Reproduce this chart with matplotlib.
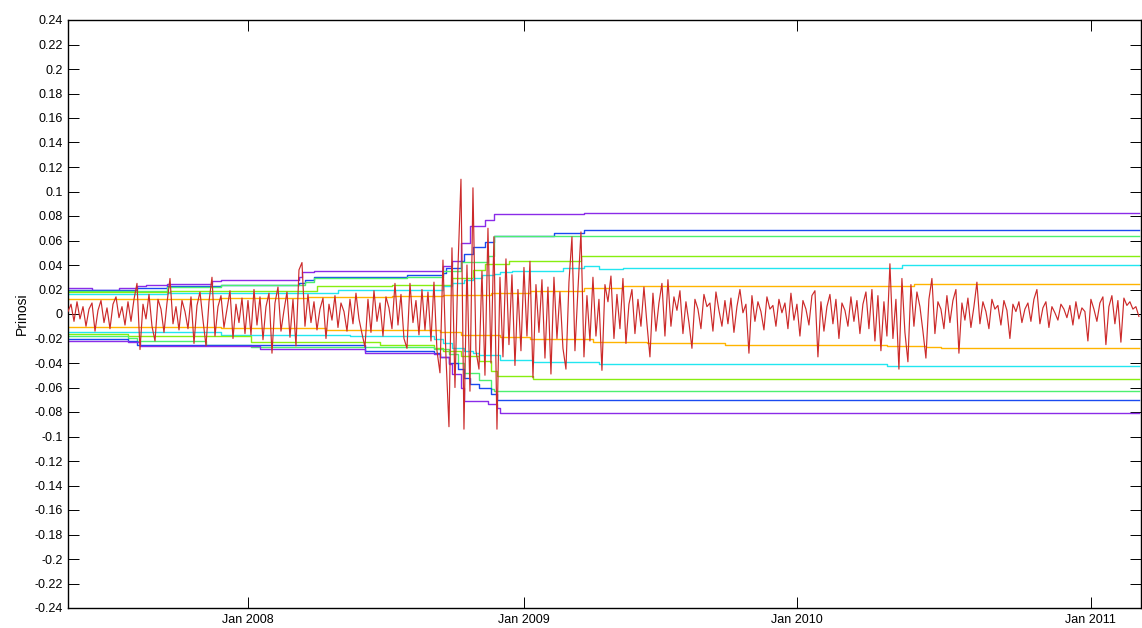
import numpy as np
import matplotlib
matplotlib.use("Agg")
import matplotlib.pyplot as plt

plt.rcParams["font.family"] = ["Liberation Sans", "DejaVu Sans"]
plt.rcParams["axes.unicode_minus"] = False

# daily returns, one value per observation
returns = [
    0.002, 0.008, -0.006, 0.010, -0.004, 0.006, -0.010, 0.004, 0.009, -0.014, 0.003, 0.011, -0.007, 0.005, -0.012, 0.008, 0.014, -0.003, 0.006, -0.009,
    0.010, -0.006, 0.012, 0.025, -0.029, 0.008, -0.004, 0.016, -0.010, -0.022, 0.012, 0.004, -0.015, 0.009, 0.029, -0.008, 0.006, -0.013, 0.011, 0.002,
    -0.012, 0.014, -0.024, 0.007, 0.018, -0.005, -0.026, 0.010, 0.030, -0.018, 0.006, 0.015, -0.011, 0.004, 0.019, -0.020, 0.008, -0.007, 0.013, -0.016,
    0.011, -0.017, 0.020, -0.009, 0.014, -0.021, 0.006, 0.017, -0.032, 0.009, 0.022, -0.014, 0.003, 0.018, -0.019, 0.012, -0.026, 0.036, 0.042, -0.010,
    0.016, -0.007, 0.010, -0.013, 0.004, 0.013, -0.020, 0.008, -0.005, 0.015, -0.011, 0.009, 0.002, -0.014, 0.012, -0.008, 0.017, -0.004, -0.016, -0.027,
    0.012, -0.015, 0.019, -0.006, 0.009, -0.018, 0.014, 0.005, -0.012, 0.025, -0.009, 0.016, -0.020, -0.028, 0.025, -0.007, 0.011, -0.017, 0.020, -0.013,
    0.018, -0.022, 0.026, -0.030, -0.048, 0.044, -0.035, -0.092, 0.054, -0.060, 0.038, 0.110, -0.094, 0.040, -0.063, 0.103, -0.030, -0.045, 0.035, -0.050,
    0.070, -0.040, 0.063, -0.094, 0.030, -0.035, 0.045, -0.025, 0.032, -0.042, 0.020, -0.030, 0.038, -0.018, 0.043, -0.052, 0.024, -0.015, 0.028, -0.036,
    0.022, -0.049, 0.030, -0.020, 0.018, -0.028, -0.045, 0.026, 0.063, -0.030, 0.020, 0.067, -0.035, 0.015, -0.022, 0.030, -0.018, 0.012, -0.046, 0.024,
    0.010, 0.031, -0.020, 0.016, -0.012, 0.029, -0.024, 0.008, 0.020, -0.016, 0.012, -0.010, 0.022, -0.008, -0.035, 0.017, -0.014, 0.009, 0.025, -0.018,
    0.028, -0.010, 0.014, 0.003, 0.019, -0.016, 0.010, -0.007, -0.028, 0.012, 0.004, -0.012, 0.016, 0.006, 0.009, -0.014, 0.018, 0.003, -0.010, 0.011,
    -0.008, 0.013, -0.015, 0.006, 0.020, 0.001, 0.008, -0.032, 0.015, -0.006, 0.010, 0.002, -0.013, 0.014, 0.004, 0.007, -0.010, 0.012, 0.001, 0.009,
    -0.012, 0.017, -0.005, 0.008, -0.018, 0.011, 0.004, -0.009, 0.015, 0.019, -0.035, 0.010, -0.014, 0.006, 0.016, -0.008, 0.012, -0.020, 0.009, 0.003,
    -0.010, 0.014, -0.006, 0.011, -0.016, 0.008, 0.018, -0.012, 0.020, -0.022, 0.015, -0.030, 0.010, -0.018, 0.041, -0.020, 0.012, -0.045, 0.029, -0.015,
    -0.039, 0.024, -0.010, 0.018, 0.006, -0.014, -0.036, 0.012, 0.029, -0.016, 0.010, 0.004, -0.012, 0.015, -0.007, 0.011, 0.020, -0.032, 0.009, -0.005,
    0.013, -0.011, 0.006, 0.026, -0.008, 0.010, 0.002, -0.012, 0.012, 0.004, 0.007, -0.009, 0.011, 0.003, -0.020, 0.008, 0.002, 0.010, -0.007, 0.004,
    0.009, -0.006, 0.012, 0.020, -0.008, 0.005, 0.010, -0.011, 0.006, 0.001, -0.005, 0.008, 0.004, -0.003, 0.007, -0.009, 0.010, -0.004, 0.005, 0.002,
    -0.022, 0.012, 0.004, -0.006, 0.009, 0.014, -0.025, 0.006, 0.015, -0.008, 0.011, -0.023, 0.013, 0.007, 0.010, 0.004, 0.006, -0.002,
]

# VaR bounds as (observation where the level changes, level)
purple_up = [(0, 0.0214), (8, 0.020), (17, 0.021), (23, 0.0225), (26, 0.0236), (33, 0.0247), (48, 0.0268),
             (51, 0.028), (77, 0.030), (78, 0.0344), (82, 0.035), (125, 0.039), (128, 0.043), (131, 0.058),
             (134, 0.0716), (139, 0.0764), (142, 0.0816), (172, 0.0824)]
blue_up = [(0, 0.020), (23, 0.0215), (33, 0.0225), (51, 0.024), (77, 0.0256), (79, 0.028), (82, 0.030),
           (113, 0.0315), (125, 0.0336), (126, 0.0374), (131, 0.043), (132, 0.049), (135, 0.0545),
           (139, 0.059), (142, 0.0635), (162, 0.066), (172, 0.0689)]
green_up = [(0, 0.0187), (33, 0.022), (51, 0.0235), (79, 0.026), (82, 0.029), (113, 0.030),
            (125, 0.035), (131, 0.0426), (140, 0.0477), (142, 0.0635)]
lime_up = [(0, 0.0178), (34, 0.0185), (83, 0.0228), (108, 0.024), (128, 0.029), (135, 0.036),
           (139, 0.041), (147, 0.043), (171, 0.0475)]
cyan_up = [(0, 0.016), (33, 0.0175), (90, 0.0193), (117, 0.020), (125, 0.0228), (128, 0.025),
           (132, 0.028), (135, 0.029), (138, 0.0315), (142, 0.0328), (144, 0.0344), (148, 0.035),
           (165, 0.0377), (172, 0.039), (177, 0.0368), (185, 0.0376), (278, 0.0398)]
orange_up = [(0, 0.0125), (51, 0.0128), (80, 0.0135), (108, 0.0147), (125, 0.0155), (141, 0.0174),
             (154, 0.0187), (172, 0.0214), (185, 0.0225), (198, 0.023), (282, 0.0245)]
orange_dn = [(0, -0.0106), (51, -0.0114), (86, -0.0133), (124, -0.015), (131, -0.017), (144, -0.019),
             (154, -0.0206), (175, -0.023), (193, -0.024), (219, -0.025), (273, -0.026), (286, -0.027),
             (291, -0.028)]
cyan_dn = [(0, -0.0144), (20, -0.015), (51, -0.017), (94, -0.018), (122, -0.0206), (125, -0.024),
           (128, -0.0274), (132, -0.030), (135, -0.0317), (137, -0.0334), (144, -0.0374), (155, -0.039),
           (177, -0.041), (273, -0.0426)]
lime_dn = [(0, -0.0165), (20, -0.018), (61, -0.023), (104, -0.025), (122, -0.0275), (125, -0.030),
           (131, -0.034), (137, -0.0385), (141, -0.0464), (143, -0.051), (155, -0.0534)]
green_dn = [(0, -0.0179), (20, -0.0195), (23, -0.022), (46, -0.025), (61, -0.0266), (122, -0.0285),
            (127, -0.033), (130, -0.040), (132, -0.048), (137, -0.054), (141, -0.061), (142, -0.0627)]
blue_dn = [(0, -0.0206), (20, -0.022), (23, -0.025), (99, -0.030), (122, -0.0317), (124, -0.035),
           (127, -0.040), (130, -0.045), (132, -0.052), (134, -0.057), (137, -0.060), (141, -0.0654),
           (143, -0.0702)]
purple_dn = [(0, -0.022), (20, -0.023), (24, -0.026), (64, -0.0285), (99, -0.0315), (122, -0.0325),
             (124, -0.035), (127, -0.041), (128, -0.049), (131, -0.060), (132, -0.0708), (140, -0.0735),
             (143, -0.077), (144, -0.0812)]

# first observation of each year
year_start_obs = [60, 152, 243, 341]
year_labels = ["Jan 2008", "Jan 2009", "Jan 2010", "Jan 2011"]
y_ticks = np.round(np.arange(-0.24, 0.2401, 0.02), 2) + 0.0

bands = [
    (purple_up, "#8a2be8"), (blue_up, "#1a4af0"), (green_up, "#4cf070"),
    (lime_up, "#88ee10"), (cyan_up, "#22e6f0"), (orange_up, "#ffb400"),
    (orange_dn, "#ffb400"), (cyan_dn, "#22e6f0"), (lime_dn, "#88ee10"),
    (green_dn, "#4cf070"), (blue_dn, "#1a4af0"), (purple_dn, "#8a2be8"),
]

n = len(returns)
obs = np.arange(n)

fig = plt.figure(figsize=(11.42, 6.28), dpi=100)
ax = fig.add_axes([68 / 1142, 20 / 628, 1073 / 1142, 588 / 628])

for steps, color in bands:
    xs = [s[0] for s in steps] + [n - 1]
    ys = [s[1] for s in steps] + [steps[-1][1]]
    ax.step(xs, ys, where="post", color=color, lw=1.0, zorder=2)

ax.plot(obs, returns, color="#cc2a2a", lw=0.85, zorder=3)

ax.set_xlim(0, n - 0.3)
ax.set_ylim(-0.24, 0.24)
ax.set_yticks(y_ticks)
ax.set_yticklabels(["0" if abs(v) < 1e-9 else f"{v:g}" for v in y_ticks])
ax.set_xticks(year_start_obs)
ax.set_xticklabels(year_labels)
ax.tick_params(direction="in", length=8, width=0.7, labelsize=9,
               top=True, right=True, pad=4)
for sp in ax.spines.values():
    sp.set_linewidth(1.0)
ax.set_ylabel("Prinosi", fontsize=10, labelpad=4)

fig.savefig("out.png", dpi=100)
